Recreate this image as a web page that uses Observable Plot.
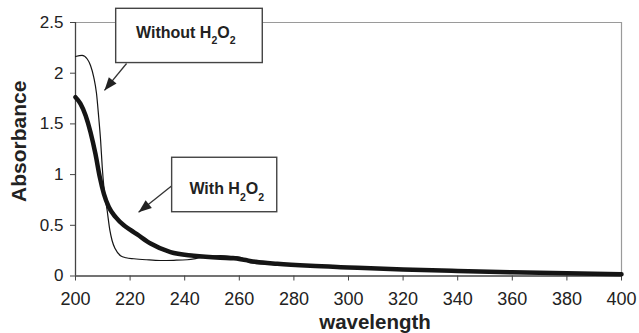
<!DOCTYPE html>
<html>
<head>
<meta charset="utf-8">
<script src="https://cdn.jsdelivr.net/npm/d3@7"></script>
<script src="https://cdn.jsdelivr.net/npm/@observablehq/plot@0.6"></script>
<style>
  html, body { margin: 0; padding: 0; background: white; }
</style>
</head>
<body>
<div id="chart"></div>
<script>
// Wavelength (nm) and absorbance
const withoutWl = [200, 202.4, 204.3, 205.5, 206.7, 207.7, 208.5, 209.2, 209.8, 210.4, 211.6, 212.6, 213.4, 214.5, 216.5, 218.5, 221.4, 226, 231, 236, 240.9, 245.8, 250, 253, 257, 260.4, 262, 264, 268, 274, 280, 286, 300, 320, 340, 360, 380, 400];
const withoutA  = [2.165, 2.175, 2.14, 2.076, 1.96, 1.80, 1.566, 1.336, 1.073, 0.876, 0.646, 0.449, 0.35, 0.27, 0.20, 0.18, 0.17, 0.16, 0.153, 0.155, 0.16, 0.18, 0.195, 0.20, 0.195, 0.185, 0.16, 0.13, 0.12, 0.113, 0.104, 0.094, 0.08, 0.06, 0.045, 0.032, 0.022, 0.015];

const withWl = [200, 201.8, 203.7, 205.5, 207.3, 208.9, 210.4, 212.2, 214.7, 217.7, 220.1, 222.6, 227.5, 234.8, 243.3, 253, 258, 261.6, 266, 273.9, 286, 300, 320, 340, 360, 380, 400];
const withA  = [1.763, 1.70, 1.583, 1.418, 1.205, 0.975, 0.81, 0.68, 0.58, 0.50, 0.455, 0.41, 0.32, 0.235, 0.20, 0.18, 0.175, 0.16, 0.14, 0.12, 0.10, 0.085, 0.065, 0.05, 0.037, 0.026, 0.018];

const xTicks = [200, 220, 240, 260, 280, 300, 320, 340, 360, 380, 400];
const yTicks = [0, 0.5, 1, 1.5, 2, 2.5];

const xLabel = "wavelength";
const yLabel = "Absorbance";

// Callout boxes (data space) and their arrows
const boxLabels = ["Without H₂O₂", "With H₂O₂"];
const boxX1 = [214.9, 235.4];
const boxX2 = [268.6, 273.9];
const boxY1 = [2.10, 0.629];
const boxY2 = [2.635, 1.166];
const boxTextX = [240.4, 255.4];
const boxTextY = [2.349, 0.804];
const arrowX1 = [218.7, 235.4];
const arrowY1 = [2.096, 0.8925];
const arrowX2 = [210.6, 223.1];
const arrowY2 = [1.83, 0.629];

const withoutData = withoutWl.map((w, i) => ({wl: w, a: withoutA[i]}));
const withData = withWl.map((w, i) => ({wl: w, a: withA[i]}));
const boxes = boxLabels.map((l, i) => ({label: l, x1: boxX1[i], x2: boxX2[i], y1: boxY1[i], y2: boxY2[i], tx: boxTextX[i], ty: boxTextY[i]}));

const W = 639, H = 333, mL = 75, mR = 18, mT = 22, mB = 57.5;
const sx = d3.scaleLinear([200, 400], [mL, W - mR]);
const sy = d3.scaleLinear([0, 2.5], [H - mB, mT]);
const arrows = arrowX1.map((x, i) => {
  const dx = sx(arrowX2[i]) - sx(x), dy = sy(arrowY2[i]) - sy(arrowY1[i]);
  return {x1: x, y1: arrowY1[i], x2: arrowX2[i], y2: arrowY2[i], rot: Math.atan2(dx, -dy) * 180 / Math.PI};
});

const chart = Plot.plot({
  width: W, height: H,
  marginLeft: mL, marginRight: mR, marginTop: mT, marginBottom: mB,
  style: {fontFamily: "'Liberation Sans', Arial, sans-serif", background: "white", color: "#222", overflow: "visible"},
  x: {domain: [200, 400]},
  y: {domain: [0, 2.5]},
  marks: [
    Plot.ruleY([2.5], {stroke: "#9a9a9a", strokeWidth: 1.2}),
    Plot.ruleX([400], {stroke: "#9a9a9a", strokeWidth: 1.2}),
    Plot.axisX({ticks: xTicks, tickSize: 5, tickPadding: 11, fontSize: 18, label: null, stroke: "#444", tickFormat: d => String(d)}),
    Plot.axisY({ticks: yTicks, tickSize: 5, tickPadding: 7, fontSize: 17, label: null, stroke: "#444", tickFormat: d => String(d)}),
    Plot.ruleX([200], {stroke: "#444", strokeWidth: 1.3}),
    Plot.ruleY([0], {stroke: "#444", strokeWidth: 1.3}),
    Plot.line(withData, {x: "wl", y: "a", stroke: "#151515", strokeWidth: 4.5, curve: "monotone-x"}),
    Plot.line(withoutData, {x: "wl", y: "a", stroke: "#151515", strokeWidth: 1.2, curve: "monotone-x"}),
    Plot.link(arrows, {x1: "x1", y1: "y1", x2: "x2", y2: "y2", stroke: "#333", strokeWidth: 1.3}),
    Plot.vector(arrows, {x: "x2", y: "y2", rotate: "rot", length: 13, r: 5, shape: "spike", anchor: "end", fill: "#222", stroke: "none"}),
    Plot.rect(boxes, {x1: "x1", x2: "x2", y1: "y1", y2: "y2", fill: "white", stroke: "#444", strokeWidth: 1.4}),
    Plot.text(boxes, {x: "tx", y: "ty", text: "label", fontWeight: "bold", fontSize: 16, lineAnchor: "bottom", fill: "#222"}),
    Plot.text([yLabel], {frameAnchor: "left", dx: -56, dy: -8, rotate: -90, textAnchor: "middle", lineAnchor: "middle", fontWeight: "bold", fontSize: 21, fill: "#222"}),
    Plot.text([xLabel], {frameAnchor: "bottom", dx: 26.5, dy: 53, textAnchor: "middle", lineAnchor: "bottom", fontWeight: "bold", fontSize: 20.5, fill: "#222"})
  ]
});

// Turn the "₂" characters into real subscripts
d3.select(chart).selectAll("text").each(function() {
  const t = this.textContent;
  if (!t.includes("₂")) return;
  const sel = d3.select(this);
  sel.text(null);
  let shifted = false;
  for (const ch of t) {
    if (ch === "₂") {
      sel.append("tspan").attr("font-size", 10.5).attr("dy", shifted ? 0 : 6.5).text("2");
      shifted = true;
    } else {
      const last = sel.node().lastChild;
      if (!shifted && last && last.getAttribute && !last.getAttribute("font-size")) {
        last.textContent += ch;
      } else {
        sel.append("tspan").attr("dy", shifted ? -6.5 : 0).text(ch);
        shifted = false;
      }
    }
  }
});

document.getElementById("chart").appendChild(chart);
</script>
</body>
</html>
